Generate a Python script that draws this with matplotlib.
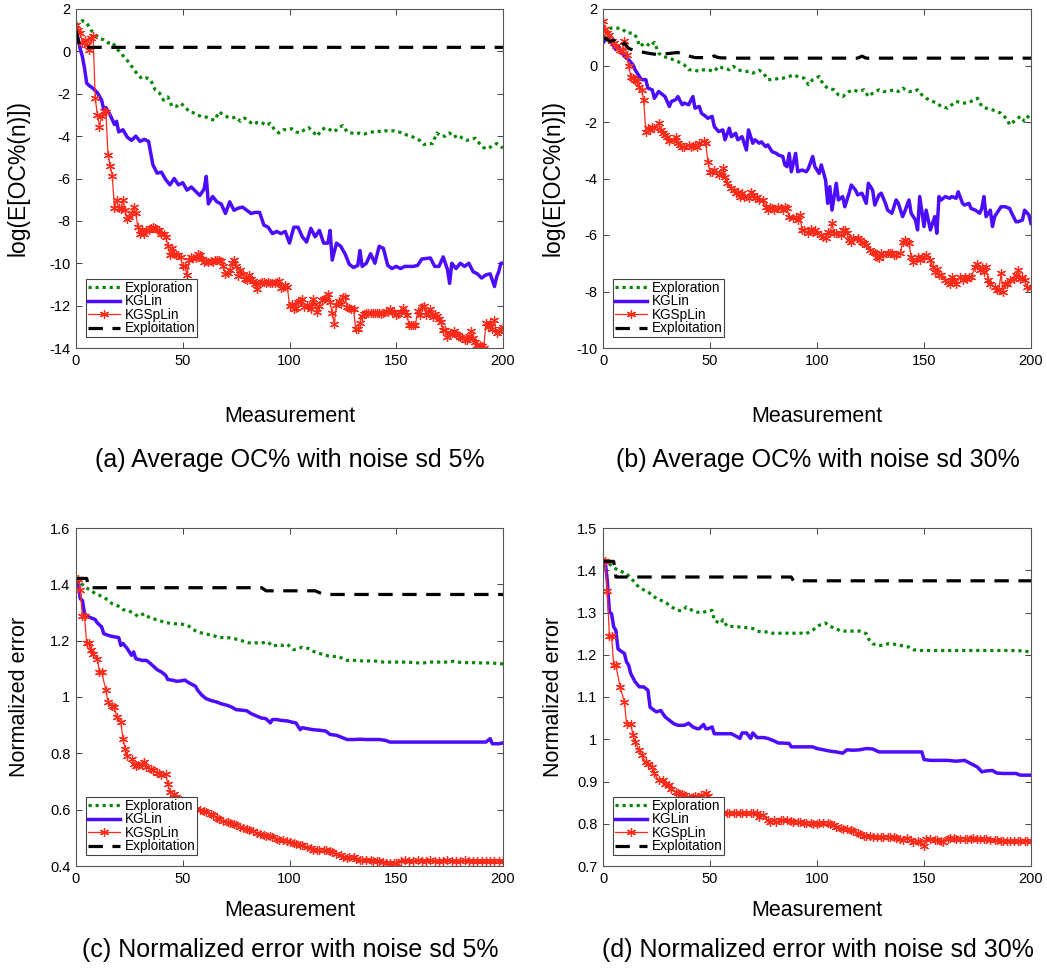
import matplotlib
matplotlib.use('Agg')
import matplotlib.pyplot as plt
from matplotlib.ticker import FuncFormatter

plt.rcParams['font.family'] = ['Liberation Sans', 'DejaVu Sans']

# ---- (a) average OC%, noise sd 5%  (log scale values) ----
a_expl = [(0, 1.2), (1, 1.3), (3, 1.45), (5, 1.35), (7, 1.0), (9, 0.8), (11, 0.6), (13, 0.55), (15, 0.4),
          (17, 0.43), (19, 0.15), (21, -0.1), (23, -0.3), (25, -0.55), (27, -0.85), (29, -1.1), (31, -1.3),
          (33, -1.25), (35, -1.35), (37, -1.8), (39, -1.95), (41, -2.3), (43, -2.15), (45, -2.6), (47, -2.6),
          (49, -2.45), (51, -2.6), (53, -2.85), (55, -2.9), (57, -3.0), (59, -3.1), (61, -3.1), (63, -3.2),
          (65, -3.25), (67, -2.85), (69, -3.0), (71, -3.1), (73, -3.15), (75, -3.1), (77, -3.3), (79, -3.15),
          (81, -3.3), (83, -3.45), (85, -3.35), (87, -3.35), (89, -3.5), (91, -3.4), (93, -3.7), (95, -3.85),
          (97, -3.7), (99, -3.7), (101, -3.65), (103, -3.8), (105, -3.85), (107, -3.7), (109, -3.6), (111, -3.8),
          (113, -4.0), (115, -3.7), (117, -3.6), (119, -3.7), (121, -3.8), (123, -3.6), (125, -3.5), (127, -3.8),
          (129, -3.85), (131, -3.9), (133, -3.85), (135, -3.9), (137, -3.85), (139, -3.8), (141, -3.75),
          (143, -3.8), (145, -3.75), (147, -3.75), (149, -3.75), (151, -3.8), (153, -3.85), (155, -3.95),
          (157, -4.0), (159, -4.1), (161, -4.2), (163, -4.4), (165, -4.35), (167, -4.35), (169, -3.85),
          (171, -4.0), (173, -4.0), (175, -3.85), (177, -4.05), (179, -3.95), (181, -4.1), (183, -4.2),
          (185, -4.15), (187, -4.1), (189, -4.35), (191, -4.55), (193, -4.6), (195, -4.45), (197, -4.35),
          (199, -4.5), (200, -4.55)]
a_kglin = [(0, 1.0), (1, 0.6), (2, 0.1), (3, -0.25), (4, -0.8), (5, -1.5), (6, -1.6), (8, -1.75), (10, -1.95),
           (12, -2.3), (13, -2.75), (14, -2.65), (16, -3.0), (18, -3.45), (19, -3.3), (20, -3.8), (22, -3.7),
           (24, -4.05), (26, -4.2), (28, -4.0), (30, -4.25), (32, -4.15), (34, -4.25), (36, -5.35), (38, -5.75),
           (40, -5.7), (42, -6.05), (44, -6.3), (46, -6.0), (48, -6.3), (50, -6.2), (52, -6.55), (54, -6.4),
           (56, -6.6), (58, -6.8), (60, -6.5), (61, -5.9), (62, -7.2), (64, -6.85), (66, -7.1), (68, -7.2),
           (70, -7.65), (72, -7.1), (74, -7.5), (76, -7.4), (78, -7.35), (80, -7.5), (82, -7.65), (84, -7.6),
           (86, -7.6), (88, -8.2), (90, -8.3), (92, -8.6), (94, -8.5), (96, -8.6), (98, -8.5), (100, -9.05),
           (102, -8.3), (104, -8.3), (106, -8.75), (108, -9.0), (110, -8.35), (112, -8.75), (114, -8.45),
           (116, -9.05), (118, -9.05), (119, -8.45), (120, -9.85), (122, -9.05), (124, -9.2), (126, -9.55),
           (128, -10.05), (130, -10.2), (132, -10.1), (133, -9.4), (134, -10.15), (136, -10.0), (138, -9.55),
           (140, -10.0), (142, -9.2), (144, -9.3), (146, -10.1), (148, -10.25), (150, -10.15), (152, -10.25),
           (154, -10.15), (156, -10.15), (158, -10.15), (160, -10.1), (162, -9.8), (166, -9.75), (168, -10.15),
           (170, -10.15), (172, -9.7), (174, -10.3), (175, -10.95), (176, -10.0), (178, -10.25), (180, -10.0),
           (182, -10.15), (184, -10.0), (186, -10.4), (188, -10.5), (190, -10.7), (192, -10.55), (194, -10.5),
           (196, -11.1), (197, -10.65), (198, -10.4), (199, -10.0), (200, -10.0)]
# one value per measurement 0..200
a_kgsplin = [1.26, 1.03, 0.87, 0.39, 0.55, 0.32, 0.08, 0.63, 0.74, -2.2,
             -3.0, -3.55, -3.05, -2.8, -2.85, -4.9, -5.4, -5.9, -7.4, -7.0,
             -7.4, -7.45, -7.0, -7.5, -7.9, -7.8, -7.65, -7.35, -7.65, -8.3,
             -8.6, -8.45, -8.6, -8.45, -8.45, -8.35, -8.3, -8.35, -8.45, -8.45,
             -8.6, -8.6, -8.75, -9.2, -9.6, -9.3, -9.55, -9.6, -9.6, -9.7,
             -10.15, -10.15, -10.55, -9.85, -9.7, -9.75, -9.75, -9.55, -9.6, -9.8,
             -9.95, -9.9, -9.95, -9.9, -9.95, -9.85, -9.85, -9.85, -9.9, -10.15,
             -10.5, -10.45, -10.3, -10.0, -9.85, -10.15, -10.6, -10.3, -10.5, -10.75,
             -10.8, -10.55, -10.75, -10.85, -11.0, -11.2, -10.95, -10.9, -10.9, -10.95,
             -10.9, -10.95, -10.95, -10.95, -10.9, -10.85, -11.15, -11.1, -11.05, -11.1,
             -12.0, -11.9, -12.15, -12.1, -11.85, -11.8, -11.7, -12.05, -11.95, -12.0,
             -12.15, -11.7, -11.9, -12.3, -12.0, -11.75, -11.7, -11.65, -11.45, -11.85,
             -12.35, -12.85, -11.95, -11.8, -11.9, -11.6, -11.6, -12.05, -12.1, -12.15,
             -12.15, -13.1, -13.1, -12.8, -12.5, -12.4, -12.35, -12.35, -12.35, -12.35,
             -12.35, -12.35, -12.35, -12.4, -12.35, -12.25, -12.3, -12.15, -12.3, -12.3,
             -12.45, -12.4, -12.3, -12.1, -12.3, -12.45, -12.9, -12.9, -12.9, -12.9,
             -12.25, -12.45, -12.05, -12.0, -12.45, -12.3, -12.15, -12.55, -12.4, -12.5,
             -12.65, -12.75, -13.15, -13.15, -13.5, -13.35, -13.3, -13.2, -13.35, -13.4,
             -13.5, -13.55, -13.6, -13.6, -13.45, -13.2, -13.55, -13.7, -13.85, -13.85,
             -13.9, -14.0, -12.8, -13.0, -12.8, -13.1, -12.7, -13.3, -13.2, -13.1,
             -13.0]
a_exploit = [(0, 1.0), (1, 0.5), (2, 0.25), (3, 0.19), (200, 0.19)]

# ---- (b) average OC%, noise sd 30% ----
b_expl = [(0, 1.2), (2, 1.27), (4, 1.33), (6, 1.33), (9, 1.3), (11, 1.15), (14, 1.15), (16, 0.97), (17, 0.68),
          (20, 0.8), (22, 0.68), (24, 0.82), (26, 0.44), (28, 0.32), (31, 0.26), (33, 0.2), (35, 0.14), (38, 0.02),
          (40, -0.15), (42, -0.15), (45, -0.21), (47, -0.15), (49, -0.15), (52, -0.21), (54, -0.03), (56, -0.09),
          (59, -0.15), (61, -0.03), (63, -0.15), (66, -0.21), (68, -0.21), (70, -0.27), (73, -0.17), (75, -0.27),
          (77, -0.5), (80, -0.5), (82, -0.45), (84, -0.45), (87, -0.39), (89, -0.33), (91, -0.39), (94, -0.45),
          (96, -0.68), (98, -0.5), (101, -0.39), (103, -0.68), (105, -0.8), (108, -0.86), (110, -1.04),
          (112, -1.1), (115, -0.92), (117, -0.86), (119, -0.92), (122, -0.86), (124, -1.1), (126, -0.98),
          (129, -0.86), (131, -0.92), (133, -0.92), (136, -0.86), (138, -0.92), (140, -0.8), (143, -0.92),
          (145, -0.92), (147, -0.86), (149, -1.04), (151, -1.16), (154, -1.27), (156, -1.33), (158, -1.45),
          (161, -1.51), (163, -1.39), (165, -1.27), (168, -1.33), (170, -1.33), (172, -1.27), (175, -1.16),
          (177, -1.45), (179, -1.51), (182, -1.57), (184, -1.63), (186, -1.69), (189, -1.92), (190, -2.1),
          (193, -1.92), (195, -1.8), (197, -1.98), (198, -1.87), (200, -1.69)]
b_kglin = [(0, 0.8), (1, 0.91), (3, 0.97), (4, 0.8), (6, 0.56), (7, 0.68), (9, 0.44), (10, 0.32), (12, 0.2),
           (14, 0.03), (15, -0.15), (17, -0.39), (18, -0.5), (20, -0.5), (21, -0.8), (23, -0.86), (24, -1.16),
           (26, -0.92), (28, -1.04), (29, -1.1), (31, -1.45), (32, -1.27), (34, -1.21), (35, -1.1), (37, -1.39),
           (38, -1.33), (40, -1.39), (42, -1.1), (43, -1.51), (45, -1.45), (46, -1.69), (48, -1.8), (49, -1.87),
           (51, -1.8), (52, -2.16), (54, -2.34), (56, -2.28), (57, -2.63), (59, -2.22), (60, -2.52), (62, -2.4),
           (63, -2.63), (65, -2.52), (67, -2.99), (68, -2.28), (70, -2.75), (71, -2.63), (73, -2.75), (74, -2.7),
           (76, -2.87), (77, -2.81), (79, -3.05), (81, -3.11), (82, -3.17), (84, -3.22), (85, -3.52), (86, -3.58),
           (87, -3.11), (88, -3.76), (90, -3.11), (91, -3.76), (93, -3.7), (95, -3.76), (96, -3.64), (98, -3.22),
           (99, -3.58), (101, -3.82), (102, -3.52), (104, -4.05), (105, -4.88), (106, -4.29), (107, -5.12),
           (109, -4.17), (110, -4.76), (112, -4.64), (113, -5.0), (115, -4.52), (116, -4.23), (118, -4.41),
           (119, -4.58), (121, -4.52), (123, -4.88), (124, -4.17), (126, -4.41), (127, -4.94), (129, -4.58),
           (130, -4.52), (132, -4.88), (133, -5.12), (135, -5.23), (137, -4.76), (138, -4.88), (140, -5.35),
           (141, -5.17), (143, -4.76), (144, -5.23), (146, -5.47), (147, -5.82), (148, -4.64), (150, -5.7),
           (151, -5.12), (153, -5.82), (155, -5.35), (156, -5.94), (157, -4.64), (158, -4.76), (160, -4.64),
           (162, -4.7), (163, -4.64), (165, -4.7), (166, -4.47), (168, -4.88), (169, -4.94), (171, -4.88),
           (172, -5.06), (174, -5.12), (176, -5.23), (177, -5.06), (178, -4.64), (179, -5.35), (181, -5.12),
           (182, -5.7), (183, -5.35), (185, -5.12), (186, -5.0), (188, -5.0), (190, -5.06), (191, -5.23),
           (193, -5.53), (194, -5.53), (196, -5.47), (197, -5.12), (199, -5.29), (200, -5.59)]
b_kgsplin = [(0, 1.56), (1, 1.3), (2, 1.15), (3, 1.09), (4, 0.85), (5, 0.79), (6, 0.68), (8, 0.56), (9, 0.5),
             (10, 0.85), (11, 0.38), (12, -0.03), (13, -0.39), (14, -0.45), (15, -0.5), (16, -0.56), (17, -0.77),
             (18, -0.86), (19, -1.21), (20, -2.34), (21, -2.22), (22, -2.28), (23, -2.16), (24, -2.22), (26, -2.04),
             (27, -2.28), (28, -2.4), (29, -2.46), (30, -2.52), (31, -2.69), (33, -2.63), (34, -2.52), (35, -2.75),
             (36, -2.81), (37, -2.87), (38, -2.87), (40, -2.81), (41, -2.87), (42, -2.84), (43, -2.81), (44, -2.87),
             (45, -2.75), (47, -2.69), (48, -2.75), (49, -3.4), (50, -3.76), (51, -3.76), (52, -3.7), (54, -3.88),
             (55, -3.82), (56, -3.64), (57, -3.94), (58, -4.17), (60, -4.35), (61, -4.41), (62, -4.52), (63, -4.47),
             (64, -4.64), (65, -4.52), (66, -4.64), (68, -4.7), (69, -4.47), (70, -4.58), (71, -4.7), (72, -4.64),
             (73, -4.76), (75, -4.76), (76, -5.0), (77, -5.12), (78, -5.0), (79, -5.06), (80, -5.12), (82, -5.0),
             (83, -5.06), (84, -5.12), (85, -5.0), (86, -5.06), (87, -5.35), (89, -5.41), (90, -5.35), (91, -5.47),
             (92, -5.29), (93, -5.82), (94, -5.82), (96, -5.94), (97, -5.77), (98, -5.88), (99, -5.82), (100, -5.94),
             (102, -6.0), (103, -6.06), (104, -6.12), (105, -5.88), (106, -5.94), (107, -5.59), (108, -5.94),
             (109, -5.94), (111, -6.0), (112, -5.82), (113, -5.82), (114, -5.94), (115, -6.18), (116, -6.24),
             (117, -6.12), (119, -6.12), (120, -6.18), (121, -6.24), (122, -6.3), (123, -6.35), (125, -6.53),
             (126, -6.59), (127, -6.65), (128, -6.77), (129, -6.83), (130, -6.65), (131, -6.71), (133, -6.65),
             (134, -6.65), (135, -6.65), (136, -6.71), (137, -6.71), (139, -6.65), (140, -6.24), (141, -6.18),
             (142, -6.24), (143, -6.3), (144, -6.77), (145, -6.95), (147, -6.77), (148, -6.89), (149, -6.77),
             (150, -6.77), (151, -6.71), (153, -6.89), (154, -7.13), (155, -7.3), (156, -7.19), (157, -7.42),
             (158, -7.42), (160, -7.6), (161, -7.66), (162, -7.72), (163, -7.48), (164, -7.6), (165, -7.72),
             (167, -7.48), (168, -7.6), (169, -7.48), (170, -7.54), (171, -7.48), (172, -7.48), (174, -7.13),
             (175, -7.01), (176, -7.25), (177, -7.13), (178, -7.3), (179, -7.13), (180, -7.6), (181, -7.72),
             (183, -7.83), (184, -7.95), (185, -7.95), (186, -7.36), (187, -8.01), (188, -7.72), (189, -7.72),
             (190, -7.6), (192, -7.54), (193, -7.42), (194, -7.25), (195, -7.54), (196, -7.48), (197, -7.6),
             (198, -7.83), (200, -7.89)]
b_exploit = [(0, 0.95), (1, 0.98), (3, 0.85), (5, 0.9), (7, 0.75), (8, 0.67), (10, 0.8), (12, 0.6), (15, 0.53),
             (20, 0.45), (24, 0.4), (30, 0.42), (35, 0.46), (38, 0.38), (43, 0.28), (50, 0.28), (52, 0.34),
             (53, 0.3), (55, 0.27), (62, 0.26), (119, 0.26), (121, 0.33), (123, 0.26), (200, 0.26)]

# ---- (c) normalized error, noise sd 5% ----
c_expl = [(0, 1.42), (2, 1.408), (4, 1.39), (7, 1.379), (9, 1.367), (11, 1.361), (14, 1.349), (17, 1.331),
          (20, 1.322), (22, 1.31), (24, 1.308), (27, 1.298), (29, 1.286), (32, 1.296), (34, 1.284), (36, 1.278),
          (39, 1.272), (41, 1.266), (43, 1.263), (46, 1.26), (48, 1.26), (50, 1.258), (53, 1.251), (55, 1.239),
          (57, 1.231), (60, 1.225), (62, 1.222), (64, 1.219), (67, 1.211), (69, 1.211), (71, 1.211), (74, 1.207),
          (76, 1.204), (78, 1.199), (81, 1.192), (83, 1.193), (85, 1.192), (88, 1.193), (90, 1.195), (92, 1.18),
          (95, 1.186), (97, 1.183), (99, 1.187), (102, 1.168), (104, 1.172), (106, 1.177), (109, 1.172),
          (111, 1.163), (113, 1.156), (116, 1.151), (118, 1.146), (120, 1.144), (123, 1.144), (125, 1.136),
          (127, 1.13), (130, 1.13), (132, 1.13), (134, 1.128), (137, 1.128), (139, 1.128), (141, 1.127),
          (144, 1.124), (146, 1.124), (149, 1.124), (151, 1.124), (153, 1.124), (156, 1.123), (158, 1.123),
          (160, 1.121), (163, 1.121), (165, 1.124), (167, 1.124), (170, 1.124), (172, 1.124), (174, 1.124),
          (177, 1.127), (179, 1.124), (181, 1.122), (184, 1.122), (186, 1.122), (188, 1.121), (191, 1.121),
          (193, 1.121), (195, 1.121), (198, 1.118), (200, 1.118)]
c_kglin = [(0, 1.42), (1, 1.414), (2, 1.349), (3, 1.343), (4, 1.296), (6, 1.284), (7, 1.281), (9, 1.275),
           (10, 1.263), (12, 1.249), (13, 1.225), (15, 1.219), (17, 1.215), (20, 1.211), (21, 1.183), (22, 1.19),
           (24, 1.172), (26, 1.148), (27, 1.16), (28, 1.136), (31, 1.13), (33, 1.13), (35, 1.118), (38, 1.097),
           (40, 1.089), (42, 1.077), (43, 1.062), (45, 1.06), (47, 1.056), (49, 1.057), (51, 1.06), (53, 1.05),
           (56, 1.038), (57, 1.024), (59, 1.006), (61, 0.994), (63, 0.988), (66, 0.982), (68, 0.976), (71, 0.97),
           (73, 0.964), (75, 0.955), (78, 0.953), (80, 0.951), (82, 0.941), (85, 0.931), (87, 0.925), (89, 0.923),
           (91, 0.908), (92, 0.92), (94, 0.92), (96, 0.917), (99, 0.915), (101, 0.911), (103, 0.908), (105, 0.884),
           (106, 0.891), (108, 0.888), (111, 0.884), (114, 0.882), (117, 0.879), (119, 0.867), (122, 0.864),
           (124, 0.858), (127, 0.849), (130, 0.849), (133, 0.85), (136, 0.849), (139, 0.849), (142, 0.849),
           (145, 0.846), (147, 0.84), (150, 0.84), (156, 0.84), (164, 0.84), (172, 0.84), (180, 0.84), (188, 0.84),
           (192, 0.84), (194, 0.852), (195, 0.834), (198, 0.834), (200, 0.837)]
c_kgsplin = [(0, 1.42), (1, 1.42), (2, 1.379), (3, 1.286), (4, 1.286), (5, 1.19), (6, 1.19), (7, 1.166),
             (8, 1.154), (10, 1.136), (11, 1.089), (12, 1.089), (14, 1.024), (15, 0.982), (17, 0.967), (18, 0.964),
             (19, 0.929), (21, 0.911), (22, 0.852), (23, 0.817), (24, 0.789), (26, 0.781), (27, 0.763), (28, 0.754),
             (29, 0.757), (31, 0.763), (32, 0.769), (33, 0.751), (35, 0.746), (36, 0.74), (38, 0.73), (39, 0.73),
             (40, 0.722), (42, 0.728), (43, 0.692), (44, 0.663), (46, 0.655), (47, 0.645), (49, 0.633), (50, 0.627),
             (52, 0.621), (53, 0.615), (55, 0.609), (56, 0.603), (58, 0.598), (60, 0.595), (61, 0.59), (63, 0.585),
             (64, 0.58), (66, 0.572), (67, 0.566), (69, 0.56), (71, 0.556), (72, 0.552), (74, 0.549), (75, 0.544),
             (77, 0.538), (78, 0.536), (80, 0.533), (81, 0.529), (83, 0.524), (85, 0.517), (86, 0.515), (88, 0.511),
             (89, 0.508), (91, 0.505), (92, 0.503), (94, 0.497), (95, 0.494), (97, 0.491), (99, 0.488), (100, 0.486),
             (102, 0.482), (103, 0.477), (105, 0.476), (106, 0.473), (108, 0.467), (110, 0.465), (111, 0.458),
             (113, 0.458), (114, 0.456), (116, 0.458), (117, 0.456), (119, 0.453), (120, 0.45), (122, 0.444),
             (124, 0.438), (125, 0.432), (127, 0.43), (128, 0.432), (130, 0.432), (131, 0.426), (133, 0.422),
             (134, 0.42), (136, 0.42), (138, 0.42), (139, 0.418), (141, 0.418), (142, 0.417), (144, 0.414),
             (145, 0.411), (147, 0.411), (149, 0.411), (150, 0.411), (152, 0.418), (154, 0.42), (156, 0.416),
             (158, 0.418), (160, 0.42), (162, 0.418), (164, 0.416), (166, 0.42), (168, 0.418), (170, 0.417),
             (172, 0.419), (174, 0.421), (176, 0.418), (178, 0.416), (180, 0.418), (182, 0.42), (184, 0.419),
             (186, 0.417), (188, 0.418), (190, 0.416), (192, 0.418), (194, 0.419), (196, 0.417), (198, 0.418),
             (200, 0.416)]
c_exploit = [(0, 1.421), (5, 1.421), (6, 1.388), (87, 1.388), (89, 1.377), (112, 1.377), (116, 1.364), (200, 1.364)]

# ---- (d) normalized error, noise sd 30% ----
d_expl = [(0, 1.423), (2, 1.42), (4, 1.41), (7, 1.4), (9, 1.396), (11, 1.392), (14, 1.376), (16, 1.364),
          (18, 1.356), (21, 1.349), (23, 1.341), (25, 1.333), (28, 1.327), (30, 1.321), (32, 1.313), (35, 1.305),
          (37, 1.304), (39, 1.313), (42, 1.304), (44, 1.301), (46, 1.299), (49, 1.304), (51, 1.305), (52, 1.281),
          (55, 1.274), (56, 1.283), (58, 1.267), (60, 1.267), (63, 1.266), (65, 1.266), (67, 1.264), (70, 1.262),
          (72, 1.256), (74, 1.254), (77, 1.254), (79, 1.251), (81, 1.251), (84, 1.251), (86, 1.251), (88, 1.251),
          (91, 1.251), (93, 1.251), (95, 1.25), (98, 1.258), (100, 1.267), (102, 1.272), (104, 1.275),
          (106, 1.267), (109, 1.262), (111, 1.256), (113, 1.256), (116, 1.256), (118, 1.256), (120, 1.256),
          (123, 1.25), (124, 1.238), (126, 1.226), (129, 1.222), (131, 1.222), (133, 1.226), (136, 1.225),
          (138, 1.223), (140, 1.221), (143, 1.218), (145, 1.212), (148, 1.21), (151, 1.21), (159, 1.21),
          (167, 1.21), (175, 1.21), (183, 1.21), (190, 1.21), (197, 1.209), (200, 1.206)]
d_kglin = [(0, 1.423), (1, 1.423), (2, 1.376), (3, 1.301), (4, 1.297), (5, 1.266), (6, 1.258), (7, 1.214),
           (8, 1.21), (10, 1.203), (11, 1.183), (12, 1.175), (13, 1.155), (15, 1.136), (17, 1.124), (19, 1.124),
           (21, 1.116), (22, 1.076), (24, 1.068), (25, 1.065), (27, 1.068), (29, 1.053), (31, 1.045), (33, 1.037),
           (35, 1.033), (38, 1.033), (40, 1.038), (42, 1.029), (44, 1.025), (45, 1.025), (47, 1.035), (48, 1.025),
           (49, 1.025), (51, 1.029), (52, 1.013), (55, 1.013), (58, 1.013), (60, 1.013), (63, 1.005), (64, 1.002),
           (65, 1.015), (67, 1.015), (69, 1.002), (70, 1.015), (72, 1.004), (75, 1.004), (77, 1.002), (80, 0.996),
           (82, 0.991), (84, 0.991), (87, 0.99), (88, 0.982), (91, 0.982), (94, 0.982), (98, 0.982), (100, 0.978),
           (103, 0.975), (106, 0.972), (109, 0.97), (112, 0.967), (114, 0.975), (117, 0.974), (120, 0.975),
           (123, 0.978), (126, 0.977), (129, 0.97), (133, 0.97), (137, 0.97), (142, 0.97), (149, 0.97),
           (150, 0.952), (153, 0.95), (158, 0.95), (161, 0.95), (165, 0.948), (169, 0.95), (172, 0.942),
           (175, 0.934), (177, 0.923), (179, 0.925), (182, 0.926), (184, 0.92), (187, 0.919), (190, 0.919),
           (193, 0.919), (195, 0.915), (200, 0.915)]
d_kgsplin = [(0, 1.423), (1, 1.423), (2, 1.352), (3, 1.244), (4, 1.244), (5, 1.175), (6, 1.175), (8, 1.124),
             (10, 1.088), (11, 1.037), (13, 1.037), (14, 1.009), (15, 0.993), (17, 0.974), (18, 0.962), (20, 0.946),
             (21, 0.942), (23, 0.934), (24, 0.919), (26, 0.903), (28, 0.903), (29, 0.895), (31, 0.891), (32, 0.883),
             (34, 0.875), (35, 0.873), (37, 0.871), (38, 0.867), (40, 0.863), (42, 0.863), (43, 0.865), (45, 0.862),
             (46, 0.867), (48, 0.873), (49, 0.865), (51, 0.855), (52, 0.832), (53, 0.828), (55, 0.825), (56, 0.825),
             (58, 0.825), (59, 0.825), (61, 0.825), (62, 0.825), (64, 0.825), (65, 0.825), (67, 0.825), (69, 0.825),
             (70, 0.825), (72, 0.825), (73, 0.816), (75, 0.82), (77, 0.808), (78, 0.804), (80, 0.808), (81, 0.804),
             (83, 0.808), (84, 0.808), (86, 0.81), (88, 0.807), (89, 0.804), (91, 0.804), (92, 0.804), (94, 0.802),
             (95, 0.802), (97, 0.802), (98, 0.8), (100, 0.8), (101, 0.802), (103, 0.802), (105, 0.802), (106, 0.8),
             (108, 0.796), (109, 0.792), (111, 0.79), (112, 0.788), (114, 0.788), (116, 0.786), (117, 0.783),
             (119, 0.778), (120, 0.775), (122, 0.77), (123, 0.77), (125, 0.77), (126, 0.769), (128, 0.769),
             (130, 0.769), (131, 0.769), (133, 0.769), (134, 0.769), (136, 0.769), (137, 0.767), (139, 0.765),
             (140, 0.761), (142, 0.767), (144, 0.761), (145, 0.757), (147, 0.759), (148, 0.757), (150, 0.747),
             (151, 0.763), (153, 0.763), (155, 0.761), (156, 0.761), (158, 0.759), (159, 0.757), (161, 0.763),
             (162, 0.767), (164, 0.767), (165, 0.765), (167, 0.765), (169, 0.765), (170, 0.765), (172, 0.765),
             (173, 0.767), (175, 0.765), (176, 0.763), (178, 0.763), (179, 0.763), (181, 0.761), (183, 0.761),
             (184, 0.761), (186, 0.759), (187, 0.759), (189, 0.759), (190, 0.759), (192, 0.759), (194, 0.759),
             (195, 0.759), (197, 0.759), (198, 0.759), (200, 0.759)]
d_exploit = [(0, 1.421), (5, 1.421), (6, 1.384), (88, 1.384), (89, 1.375), (200, 1.375)]

labels = ['Exploration', 'KGLin', 'KGSpLin', 'Exploitation']
captions = ['(a) Average OC% with noise sd 5%', '(b) Average OC% with noise sd 30%',
            '(c) Normalized error with noise sd 5%', '(d) Normalized error with noise sd 30%']

GREEN = '#0a860a'
BLUE = '#4c0cff'
RED = '#ff2a1a'
AXC = '#262626'

W, H = 1047, 968
fig = plt.figure(figsize=(W / 100, H / 100), dpi=100)


def panel(box, expl, kglin, kgsp, exploit, ylim, ystep, ylabel, ylab_size, ylab_x, xlab_y):
    l, t, r, b = box
    ax = fig.add_axes([l / W, 1 - b / H, (r - l) / W, (b - t) / H])
    x, y = zip(*expl)
    ax.plot(x, y, color=GREEN, ls=(0, (1, 1.2)), lw=2.3, label=labels[0])
    x, y = zip(*kglin)
    ax.plot(x, y, color=BLUE, lw=2.5, label=labels[1])
    if isinstance(kgsp[0], tuple):
        x, y = zip(*kgsp)
    else:
        x, y = range(len(kgsp)), kgsp
    ax.plot(x, y, color=RED, lw=0.9, marker=(6, 2, 0), ms=6.5, mew=0.9, label=labels[2])
    x, y = zip(*exploit)
    ax.plot(x, y, color='black', ls=(0, (4.5, 3)), lw=2.3, label=labels[3])

    ax.set_xlim(0, 200)
    ax.set_ylim(*ylim)
    ax.set_xticks(range(0, 201, 50))
    n = int(round((ylim[1] - ylim[0]) / ystep))
    ax.set_yticks([ylim[0] + i * ystep for i in range(n + 1)])
    ax.yaxis.set_major_formatter(FuncFormatter(lambda v, p: '%g' % round(v, 6)))
    ax.tick_params(direction='in', top=True, right=True, length=4, width=0.6,
                   labelsize=10.5, colors=AXC, labelcolor='black', pad=4)
    for s in ax.spines.values():
        s.set_color('#555555')
        s.set_linewidth(0.8)

    ax.set_ylabel(ylabel, fontsize=ylab_size)
    ax.yaxis.set_label_coords(ylab_x, 0.5)
    ax.set_xlabel('Measurement', fontsize=15.5)
    ax.xaxis.set_label_coords(0.5, xlab_y)

    leg = ax.legend(loc='lower left', bbox_to_anchor=(10 / (r - l), 11 / (b - t)), borderaxespad=0,
                    fontsize=9.8, handlelength=2.4, handletextpad=0.35, labelspacing=-0.04,
                    borderpad=0.12, fancybox=False, framealpha=1)
    leg.get_frame().set_edgecolor('#444444')
    leg.get_frame().set_linewidth(0.8)
    return ax


panel((76, 9, 503, 348), a_expl, a_kglin, a_kgsplin, a_exploit, (-14, 2), 2,
      'log(E[OC%(n)])', 16.5, -0.108, -0.17)
panel((603, 9, 1031, 348), b_expl, b_kglin, b_kgsplin, b_exploit, (-10, 2), 2,
      'log(E[OC%(n)])', 16.5, -0.09, -0.17)
panel((76, 528, 503, 866), c_expl, c_kglin, c_kgsplin, c_exploit, (0.4, 1.6), 0.2,
      'Normalized error', 15.5, -0.108, -0.1)
panel((603, 528, 1031, 866), d_expl, d_kglin, d_kgsplin, d_exploit, (0.7, 1.5), 0.1,
      'Normalized error', 15.5, -0.09, -0.1)

for (cx, cy), txt in zip([(290, 460), (818, 460), (290, 950), (818, 950)], captions):
    fig.text(cx / W, 1 - cy / H, txt, ha='center', va='center', fontsize=18)

fig.savefig('out.png', dpi=100)
